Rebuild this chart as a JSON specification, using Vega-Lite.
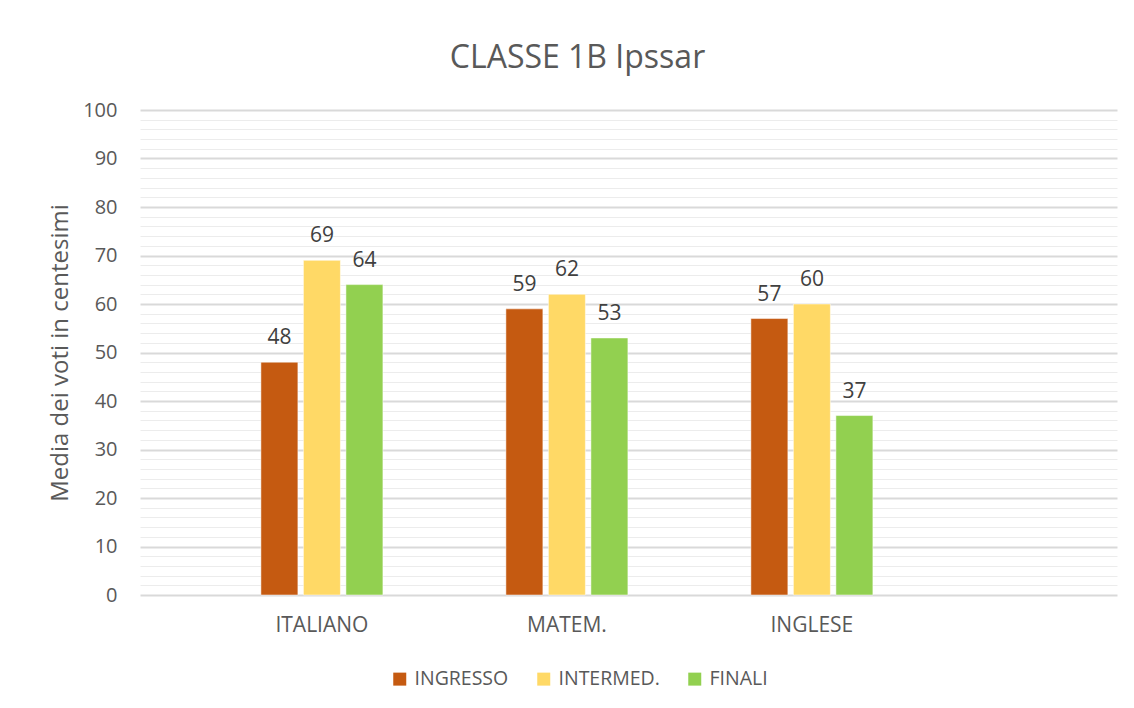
{
  "$schema": "https://vega.github.io/schema/vega-lite/v6.json",
  "width": 977,
  "height": 485,
  "autosize": {"type": "none"},
  "padding": {"left": 140, "top": 110, "right": 17, "bottom": 113},
  "background": "white",
  "config": {
    "view": {"stroke": null},
    "font": "Open Sans",
    "axis": {"labelFont": "Open Sans", "titleFont": "Open Sans"}
  },
  "title": {
    "text": "CLASSE 1B Ipssar",
    "font": "Open Sans",
    "fontSize": 32,
    "fontWeight": "normal",
    "color": "#595959",
    "anchor": "middle",
    "frame": "group",
    "dx": -51,
    "offset": 25
  },
  "data": {
    "values": [
      {"materia": "ITALIANO", "prova": "INGRESSO", "media": 48},
      {"materia": "ITALIANO", "prova": "INTERMED.", "media": 69},
      {"materia": "ITALIANO", "prova": "FINALI", "media": 64},
      {"materia": "MATEM.", "prova": "INGRESSO", "media": 59},
      {"materia": "MATEM.", "prova": "INTERMED.", "media": 62},
      {"materia": "MATEM.", "prova": "FINALI", "media": 53},
      {"materia": "INGLESE", "prova": "INGRESSO", "media": 57},
      {"materia": "INGLESE", "prova": "INTERMED.", "media": 60},
      {"materia": "INGLESE", "prova": "FINALI", "media": 37}
    ]
  },
  "encoding": {
    "x": {
      "field": "materia",
      "type": "nominal",
      "sort": ["ITALIANO", "MATEM.", "INGLESE"],
      "scale": {"paddingInner": 0.155, "paddingOuter": 0.5715, "align": 0.28},
      "axis": {
        "title": null,
        "domain": false,
        "ticks": false,
        "labelAngle": 0,
        "labelFontSize": 21,
        "labelColor": "#595959",
        "labelPadding": 19
      }
    },
    "xOffset": {
      "field": "prova",
      "type": "nominal",
      "sort": ["INGRESSO", "INTERMED.", "FINALI"],
      "scale": {"paddingInner": 0.13, "paddingOuter": 1}
    },
    "y": {
      "field": "media",
      "type": "quantitative",
      "scale": {"domain": [0, 100], "nice": false},
      "axis": {
        "title": "Media dei voti in centesimi",
        "titleFontSize": 24,
        "titleFontWeight": "normal",
        "titleColor": "#595959",
        "titlePadding": 10,
        "values": [0, 2, 4, 6, 8, 10, 12, 14, 16, 18, 20, 22, 24, 26, 28, 30, 32, 34, 36, 38, 40, 42, 44, 46, 48, 50, 52, 54, 56, 58, 60, 62, 64, 66, 68, 70, 72, 74, 76, 78, 80, 82, 84, 86, 88, 90, 92, 94, 96, 98, 100],
        "labelExpr": "datum.value % 10 === 0 ? datum.label : ''",
        "labelFontSize": 20,
        "labelColor": "#595959",
        "labelPadding": 23,
        "domain": false,
        "ticks": false,
        "grid": true,
        "gridColor": {"condition": {"test": "datum.value % 10 === 0", "value": "#d9d9d9"}, "value": "#ececec"},
        "gridWidth": {"condition": {"test": "datum.value % 10 === 0", "value": 2}, "value": 1}
      }
    }
  },
  "layer": [
    {
      "mark": {"type": "bar", "stroke": "white", "strokeWidth": 0.5},
      "encoding": {
        "color": {
          "field": "prova",
          "type": "nominal",
          "sort": ["INGRESSO", "INTERMED.", "FINALI"],
          "scale": {"domain": ["INGRESSO", "INTERMED.", "FINALI"], "range": ["#C55A11", "#FFD966", "#92D050"]},
          "legend": {
            "title": null,
            "orient": "none",
            "direction": "horizontal",
            "legendX": 250,
            "legendY": 559,
            "symbolType": "square",
            "symbolSize": 169,
            "symbolStrokeWidth": 0,
            "labelFontSize": 19.5,
            "labelColor": "#595959",
            "labelFont": "Open Sans",
            "labelOffset": 5,
            "columnPadding": 25
          }
        }
      }
    },
    {
      "mark": {"type": "text", "baseline": "alphabetic", "dy": -18, "fontSize": 21, "color": "#404040", "font": "Open Sans"},
      "encoding": {
        "text": {"field": "media", "type": "quantitative"}
      }
    }
  ]
}
